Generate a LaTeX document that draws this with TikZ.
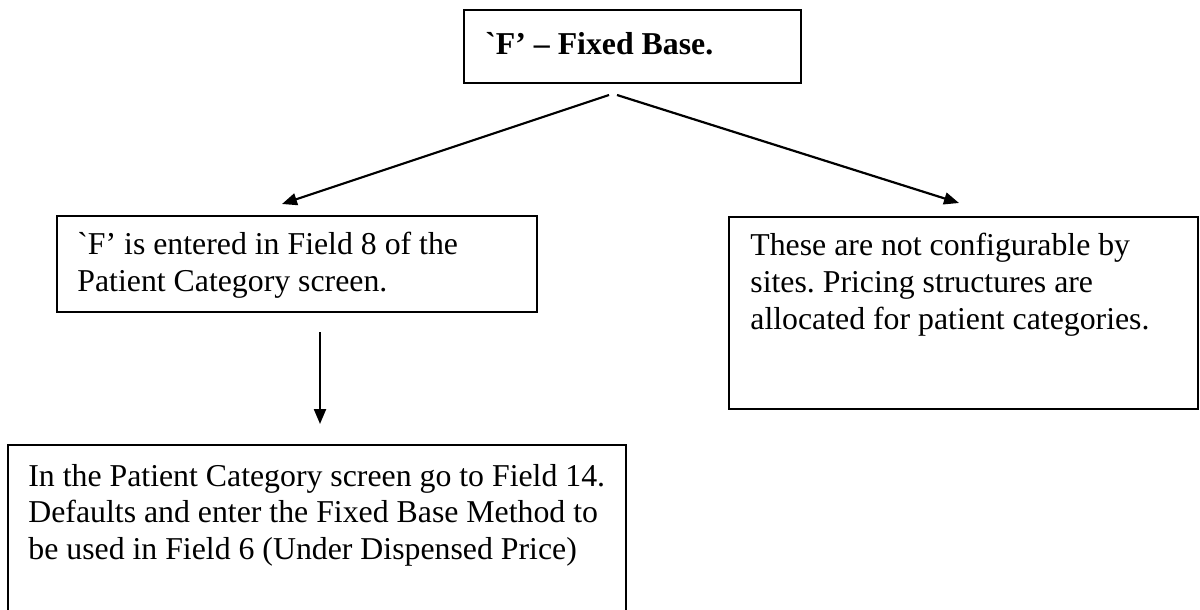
\documentclass[tikz,border=0pt]{standalone}
\usepackage{fontspec}
\newfontfamily\tnr{Liberation Serif}
\usetikzlibrary{arrows.meta,calc}
\frenchspacing
\begin{document}
\begin{tikzpicture}[x=0.5pt,y=-0.5pt,
  box/.style={draw, line width=1pt, anchor=north west, inner sep=0pt},
  txt/.style={anchor=base west, inner sep=0pt, font=\tnr\fontsize{15.9}{18.3}\selectfont},
  conn/.style={line width=1.1pt, -{Triangle[length=7.5pt,width=6pt]}}]
\useasboundingbox (0,0) rectangle (1200,610);
\clip (0,0) rectangle (1200,610);
\fill[white] (0,0) rectangle (1200,610);
% boxes
\node[box, minimum width=168.5pt, minimum height=36.5pt] (top) at (463,9) {};
\node[box, minimum width=240pt, minimum height=48pt] (left) at (56,215) {};
\node[box, minimum width=234.5pt, minimum height=96pt] (right) at (728,216) {};
\node[box, minimum width=309pt, minimum height=110pt] (bottom) at (7,444) {};
% texts
\node[txt] (topT) at ($(top.north west)+(22,46)$) {\bfseries `F’ – Fixed Base.};
\node[txt] (leftT) at ($(left.north west)+(21,40)$) {\parbox[t]{230pt}{\frenchspacing `F’ is entered in Field 8 of the\\Patient Category screen.}};
\node[txt] (rightT) at ($(right.north west)+(22,40)$) {\parbox[t]{230pt}{\frenchspacing These are not configurable by\\sites. Pricing structures are\\allocated for patient categories.}};
\node[txt] (bottomT) at ($(bottom.north west)+(21,42)$) {\parbox[t]{300pt}{\frenchspacing In the Patient Category screen go to Field 14.\\Defaults and enter the Fixed Base Method to\\be used in Field 6 (Under Dispensed Price)}};
% connector end points
\coordinate (s1) at ($(top.south)+(-23.5,11)$);
\coordinate (e1) at ($(left.north)+(-15,-11)$);
\coordinate (s2) at ($(top.south)+(-15.5,11)$);
\coordinate (e2) at ($(right.north)+(-4.5,-13)$);
\coordinate (s3) at ($(left.south)+(23,19)$);
\coordinate (e3) at ($(bottom.north)+(3,-20)$);
\draw[conn] (s1) -- (e1);
\draw[conn] (s2) -- (e2);
\draw[conn] (s3) -- (e3);
\end{tikzpicture}
\end{document}
